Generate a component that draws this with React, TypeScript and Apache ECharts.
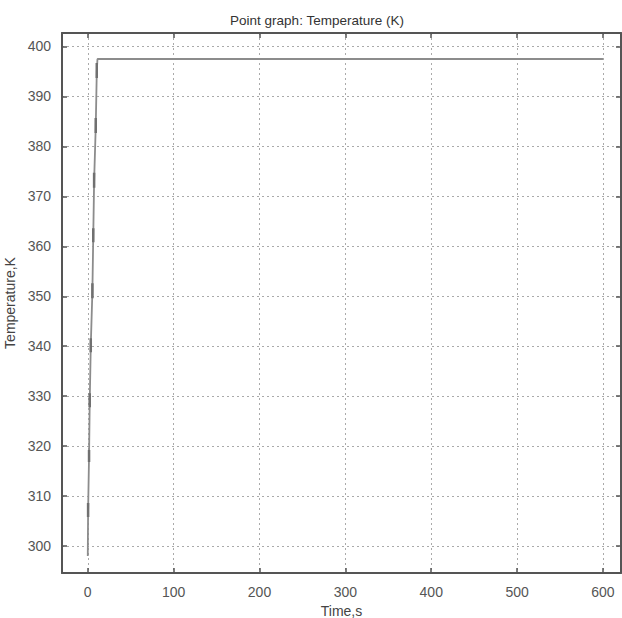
import React, { useEffect, useRef } from "react";
import * as echarts from "echarts";

const timeValues = [0, 0.4, 1.5, 2.3, 3.5, 5.4, 6.4, 7.4, 9.3, 10.5, 11.3, 600];
const tempValues = [298, 307, 318, 329, 340, 351, 362, 373, 384, 395, 397.5, 397.5];

// short thick "point" segments along the rise (time, temperature start/end)
const markerTimes = [0.4, 1.5, 2.3, 3.5, 5.4, 6.4, 7.4, 9.3, 10.5];
const markerLow = [305.8, 316.8, 327.8, 338.8, 349.6, 360.8, 371.7, 382.7, 393.7];
const markerHigh = [308.6, 319.2, 330.6, 341.6, 352.6, 363.6, 374.7, 385.7, 396.7];

const titleText = "Point graph: Temperature (K)";
const xName = "Time,s";
const yName = "Temperature,K";

const FONT = "'Liberation Sans', Arial, sans-serif";

export default function App() {
  const ref = useRef<HTMLDivElement>(null);
  useEffect(() => {
    if (!ref.current) return;
    const chart = echarts.init(ref.current, null, { renderer: "svg" });
    const curve = timeValues.map((t, i) => [t, tempValues[i]]);
    const markers: any[] = [];
    markerTimes.forEach((t, i) => {
      markers.push([t, markerLow[i]]);
      markers.push([t, markerHigh[i]]);
      markers.push([t, null]);
    });
    const axisLine = { show: true, onZero: false, lineStyle: { color: "#555", width: 2 } };
    const tick = { show: true, inside: true, length: 5, lineStyle: { color: "#555", width: 1.5 } };
    const split = { show: true, lineStyle: { color: "#aaa", type: [2, 3] as any, width: 1 } };
    const label = { color: "#555", fontSize: 14, fontFamily: FONT };
    chart.setOption({
      animation: false,
      backgroundColor: "#fff",
      title: {
        text: titleText,
        left: 312,
        textAlign: "center",
        top: 8,
        textStyle: { fontSize: 13.5, fontWeight: "normal", color: "#333", fontFamily: FONT },
      },
      grid: { left: 62, right: 1, top: 33, bottom: 45, containLabel: false, outerBoundsMode: "none" },
      xAxis: [
        {
          type: "value",
          position: "bottom",
          min: -30,
          max: 621,
          splitNumber: 6,
          axisLine,
          axisTick: tick,
          splitLine: split,
          axisLabel: {
            ...label,
            margin: 12,
            formatter: (v: number) => (v % 100 === 0 ? String(v) : ""),
          },
          name: xName,
          nameLocation: "middle",
          nameGap: 30,
          nameTextStyle: { color: "#444", fontSize: 14, fontFamily: FONT },
        },
        {
          type: "value",
          position: "top",
          min: -30,
          max: 621,
          splitNumber: 6,
          axisLine,
          axisTick: tick,
          splitLine: { show: false },
          axisLabel: { show: false },
        },
      ],
      yAxis: [
        {
          type: "value",
          position: "left",
          min: 294.6,
          max: 402.7,
          splitNumber: 10,
          axisLine,
          axisTick: tick,
          splitLine: split,
          axisLabel: {
            ...label,
            margin: 11,
            formatter: (v: number) => (v % 10 === 0 ? String(v) : ""),
          },
          name: yName,
          nameLocation: "middle",
          nameGap: 37,
          nameTextStyle: { color: "#444", fontSize: 14, fontFamily: FONT },
        },
        {
          type: "value",
          position: "right",
          min: 294.6,
          max: 402.7,
          splitNumber: 10,
          axisLine,
          axisTick: tick,
          splitLine: { show: false },
          axisLabel: { show: false },
        },
      ],
      series: [
        {
          type: "line",
          data: curve,
          showSymbol: false,
          lineStyle: { color: "#8c8c8c", width: 1.8 },
          xAxisIndex: 0,
          yAxisIndex: 0,
        },
        {
          type: "line",
          data: markers,
          showSymbol: false,
          connectNulls: false,
          lineStyle: { color: "#707070", width: 2.5 },
          xAxisIndex: 0,
          yAxisIndex: 0,
        },
      ],
    });
    return () => chart.dispose();
  }, []);
  return (
    <div
      ref={ref}
      style={{ position: "fixed", left: 0, top: 0, width: 622, height: 618, background: "#fff" }}
    />
  );
}
